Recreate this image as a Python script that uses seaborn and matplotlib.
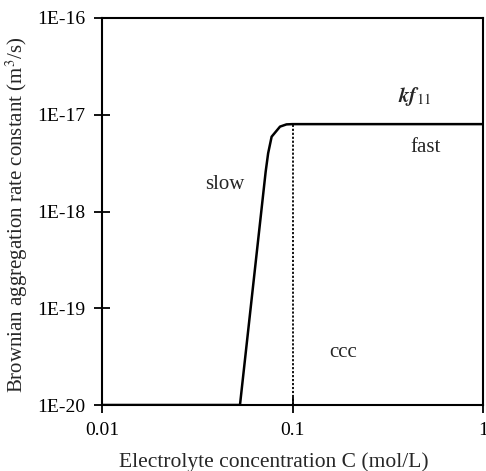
import matplotlib
matplotlib.use("Agg")
import matplotlib.pyplot as plt
import seaborn as sns
import numpy as np

conc = [0.01, 0.053, 0.0723, 0.0745, 0.0777, 0.086, 0.093, 0.1, 1.0]
rate = [1e-20, 1e-20, 2.58e-18, 4.0e-18, 5.93e-18, 7.54e-18, 7.95e-18, 8.0e-18, 8.0e-18]
ccc = 0.1
xticks = [0.01, 0.1, 1]
xticklabels = ["0.01", "0.1", "1"]
yticks = [1e-20, 1e-19, 1e-18, 1e-17, 1e-16]
yticklabels = ["1E-20", "1E-19", "1E-18", "1E-17", "1E-16"]

sns.set_theme(style="white")
plt.rcParams['font.family'] = ['Liberation Serif', 'DejaVu Serif']
plt.rcParams['mathtext.fontset'] = 'stix'

fig = plt.figure(figsize=(4.86, 4.71), dpi=100)
ax = fig.add_axes([102/486, 1-405/471, 381/486, 387/471])
sns.lineplot(x=conc, y=rate, ax=ax, color="black", lw=1.8)
ax.plot([ccc, ccc], [1e-20, rate[-1]], color="black", lw=1.3, ls=(0, (1.2, 1.0)))
ax.set_xscale("log")
ax.set_yscale("log")
ax.set_xlim(0.01, 1)
ax.set_ylim(1e-20, 1e-16)
ax.set_xticks(xticks)
ax.set_xticklabels(xticklabels)
ax.set_yticks(yticks)
ax.set_yticklabels(yticklabels)
ax.minorticks_off()
ax.tick_params(bottom=True, left=True, direction="inout", length=11.5, width=1.3,
               colors="black", labelsize=14, pad=6.5)
for s in ax.spines.values():
    s.set_color("black")
    s.set_linewidth(1.5)
ax.set_xlabel("Electrolyte concentration C (mol/L)", fontsize=15.5)
ax.set_ylabel("Brownian aggregation rate constant (m$^3$/s)", fontsize=15)
ax.xaxis.set_label_coords(0.451, -0.122)
ax.yaxis.set_label_coords(-0.19, 0.49)
ax.text(0.0443, 1.88e-18, "slow", fontsize=15, ha="center", va="center")
ax.text(0.50, 4.64e-18, "fast", fontsize=15, ha="center", va="center")
ax.text(0.44, 1.56e-17, r"$\mathbfit{kf}_{\mathrm{11}}$", fontsize=15, ha="center", va="center")
ax.text(0.184, 3.53e-20, "ccc", fontsize=15, ha="center", va="center")
fig.savefig("out.png", dpi=100)
